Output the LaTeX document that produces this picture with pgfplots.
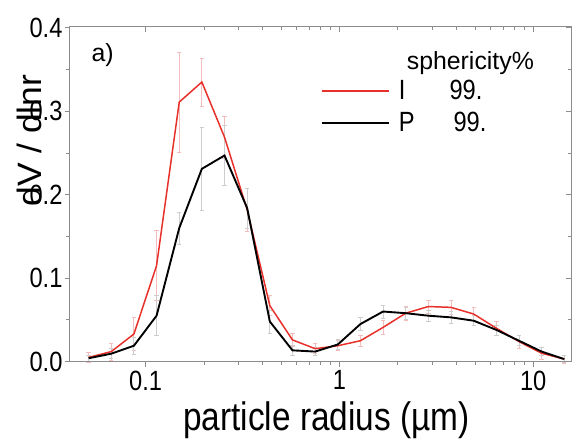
\documentclass[border=0pt]{standalone}
\usepackage{fontspec}
\setmainfont{Liberation Sans}[FakeStretch=0.85]
\newfontfamily\xlabfont{Liberation Sans}[FakeStretch=0.84]
\newfontfamily\ylabfont{Liberation Sans}[FakeStretch=1.05]
\newfontfamily\plainfont{Liberation Sans}
\usepackage{pgfplots}
\usepackage{pgfplotstable}
\pgfplotsset{compat=1.18}
\definecolor{myred}{RGB}{232,48,42}
\definecolor{errred}{RGB}{244,190,190}
\definecolor{errgray}{RGB}{205,205,205}
\definecolor{spine}{RGB}{140,140,140}
\pgfplotstableread{
r       I       Ie      P       Pe
0.0508  0.005   0.006   0.004   0.004
0.0665  0.012   0.010   0.0095  0.006
0.0870  0.033   0.020   0.019   0.010
0.1139  0.115   0.042   0.055   0.024
0.1491  0.311   0.060   0.160   0.019
0.1951  0.335   0.029   0.231   0.050
0.2553  0.269   0.025   0.247   0.036
0.3342  0.182   0.026   0.184   0.024
0.4374  0.067   0.012   0.048   0.014
0.5725  0.026   0.008   0.0135  0.006
0.7493  0.0155  0.006   0.012   0.005
0.9807  0.019   0.006   0.0205  0.006
1.2835  0.025   0.007   0.045   0.008
1.680   0.041   0.008   0.060   0.008
2.199   0.058   0.008   0.058   0.007
2.878   0.066   0.008   0.055   0.007
3.766   0.065   0.008   0.053   0.007
4.929   0.057   0.008   0.049   0.006
6.451   0.040   0.008   0.038   0.006
8.444   0.024   0.008   0.025   0.006
11.05   0.010   0.007   0.012   0.005
14.46   0.003   0.005   0.003   0.004
}\data
\begin{document}
\begin{tikzpicture}
\path (-70bp,-80bp) rectangle (508bp,364bp);
\begin{axis}[
  scale only axis, width=505bp, height=337bp,
  xmode=log, xmin=0.0405, xmax=15.7, ymin=0, ymax=0.4012,
  no markers,
  xtick={0.1,1,10}, xticklabels={0.1,1,10},
  ytick={0,0.1,0.2,0.3,0.4}, yticklabels={0.0,0.1,0.2,0.3,0.4},
  minor ytick={0.05,0.15,0.25,0.35},
  tick align=outside, xtick pos=left, ytick pos=left,
  major tick length=5bp, minor tick length=3.5bp,
  every tick/.style={spine, line width=0.8bp},
  axis line style={spine, line width=1bp},
  ticklabel style={font=\fontsize{28bp}{30bp}\selectfont},
  xticklabel style={anchor=north, inner sep=0pt, yshift=-4bp},
  yticklabel style={anchor=east, inner sep=0pt, xshift=-2bp},
  /pgf/number format/assume math mode=true,
  xlabel={\xlabfont particle radius (\textmu m)},
  xlabel style={font=\fontsize{40bp}{44bp}\selectfont, at={(axis description cs:0.512,-0.2047)}, anchor=base, inner sep=0pt},
  ylabel={\ylabfont dV / dlnr},
  ylabel style={font=\fontsize{34bp}{38bp}\selectfont, at={(axis description cs:-0.0554,0.66)}, anchor=base, inner sep=0pt, rotate=0},
  legend style={at={(0.496,0.849)}, anchor=north west, draw=none, fill=none,
    font=\fontsize{28bp}{30bp}\selectfont, row sep=9bp, nodes={inner sep=1bp}},
  legend image code/.code={\draw[#1] (0bp,0bp) -- (67bp,0bp); \path (75bp,0bp);},
  legend cell align=left,
  clip=false,
]
\addplot[forget plot, draw=none, mark=none,
  error bars/.cd, y dir=both, y explicit,
  error bar style={draw=errred, line width=0.8bp},
  error mark options={draw=errred, rotate=90, mark size=2.2bp, line width=0.6bp}]
  table[x=r, y=I, y error=Ie] {\data};
\addplot[forget plot, draw=none, mark=none,
  error bars/.cd, y dir=both, y explicit,
  error bar style={draw=errgray, line width=0.8bp},
  error mark options={draw=errgray, rotate=90, mark size=2.2bp, line width=0.6bp}]
  table[x=r, y=P, y error=Pe] {\data};
\addplot[myred, line width=1.5bp, mark=none] table[x=r, y=I] {\data};
\addlegendentry{\makebox[51bp][l]{I}99.}
\addplot[black, line width=1.9bp, mark=none] table[x=r, y=P] {\data};
\addlegendentry{\makebox[55bp][l]{P}99.}
\node[anchor=base, inner sep=0pt, font=\plainfont\fontsize{25bp}{28bp}\selectfont] at (rel axis cs:0.799,0.872) {sphericity\%};
\node[anchor=base west, inner sep=0pt, font=\plainfont\fontsize{25bp}{28bp}\selectfont] at (rel axis cs:0.0436,0.896) {a)};
\end{axis}
\begin{axis}[
  scale only axis, width=505bp, height=337bp,
  xmode=log, xmin=0.0405, xmax=15.7, ymin=0, ymax=0.4012,
  xtick={0.1,1,10}, xticklabels={},
  ytick={0,0.1,0.2,0.3,0.4}, yticklabels={},
  minor ytick={0.05,0.15,0.25,0.35},
  tick align=inside, xtick pos=right, ytick pos=right,
  major tick length=5bp, minor tick length=3.5bp,
  every tick/.style={spine, line width=0.8bp},
  axis line style={spine, line width=1bp},
]
\addplot[draw=none] coordinates {(1,0.1)};
\end{axis}
\end{tikzpicture}
\end{document}
